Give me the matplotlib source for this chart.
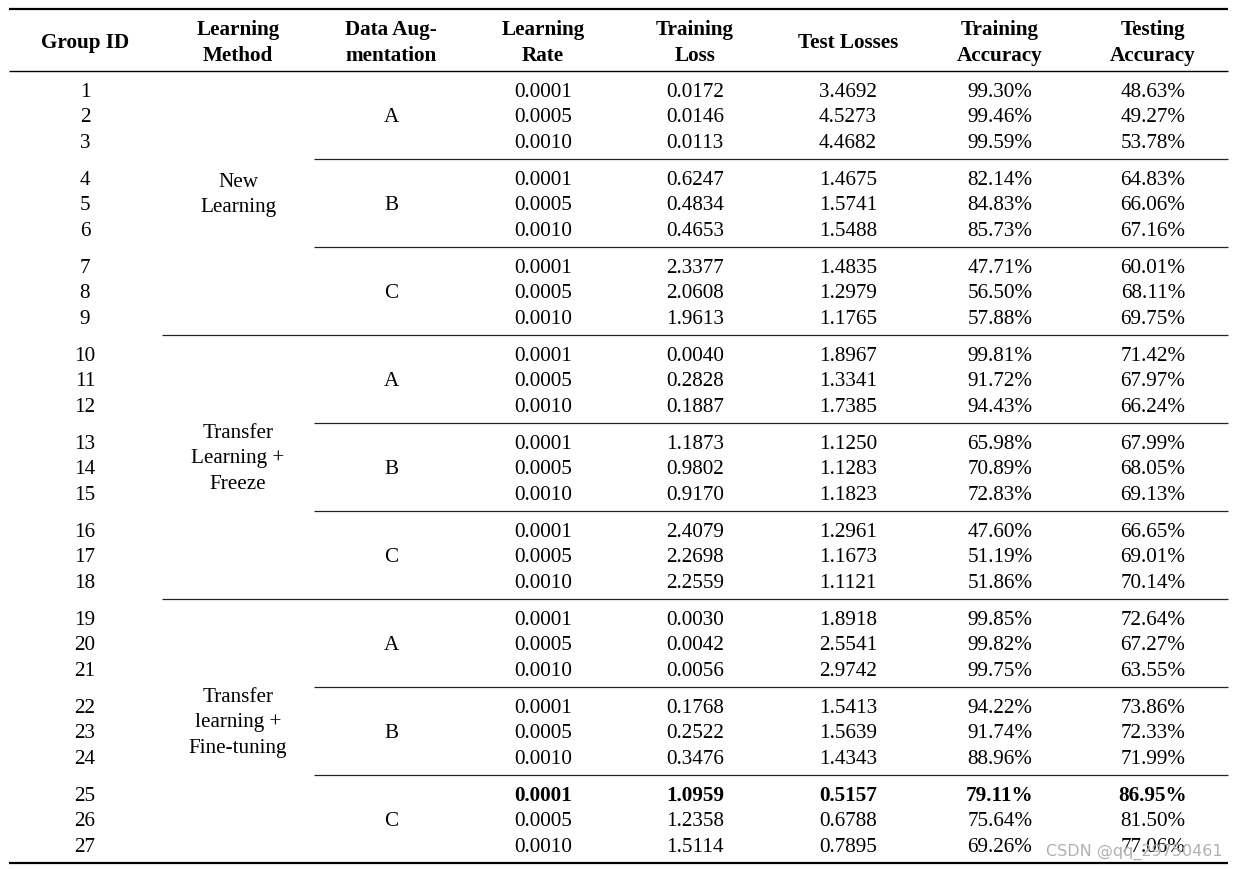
import matplotlib.pyplot as plt

# Table data
headers = ['Group ID', 'Learning\nMethod', 'Data Aug-\nmentation', 'Learning\nRate',
           'Training\nLoss', 'Test Losses', 'Training\nAccuracy', 'Testing\nAccuracy']
methods = ['New\nLearning', 'Transfer\nLearning +\nFreeze', 'Transfer\nlearning +\nFine-tuning']
augmentations = ['A', 'B', 'C']
learning_rates = ['0.0001', '0.0005', '0.0010']

group_ids = list(range(1, 28))
train_loss = [0.0172, 0.0146, 0.0113, 0.6247, 0.4834, 0.4653, 2.3377, 2.0608, 1.9613,
              0.0040, 0.2828, 0.1887, 1.1873, 0.9802, 0.9170, 2.4079, 2.2698, 2.2559,
              0.0030, 0.0042, 0.0056, 0.1768, 0.2522, 0.3476, 1.0959, 1.2358, 1.5114]
test_loss = [3.4692, 4.5273, 4.4682, 1.4675, 1.5741, 1.5488, 1.4835, 1.2979, 1.1765,
             1.8967, 1.3341, 1.7385, 1.1250, 1.1283, 1.1823, 1.2961, 1.1673, 1.1121,
             1.8918, 2.5541, 2.9742, 1.5413, 1.5639, 1.4343, 0.5157, 0.6788, 0.7895]
train_acc = [99.30, 99.46, 99.59, 82.14, 84.83, 85.73, 47.71, 56.50, 57.88,
             99.81, 91.72, 94.43, 65.98, 70.89, 72.83, 47.60, 51.19, 51.86,
             99.85, 99.82, 99.75, 94.22, 91.74, 88.96, 79.11, 75.64, 69.26]
test_acc = [48.63, 49.27, 53.78, 64.83, 66.06, 67.16, 60.01, 68.11, 69.75,
            71.42, 67.97, 66.24, 67.99, 68.05, 69.13, 66.65, 69.01, 70.14,
            72.64, 67.27, 63.55, 73.86, 72.33, 71.99, 86.95, 81.50, 77.06]
best_row = 25

plt.rcParams['font.family'] = ['Liberation Serif', 'DejaVu Serif']

fig = plt.figure(figsize=(12.36, 8.70), dpi=100)
ax = fig.add_axes([0, 0, 1, 1])
ax.set_xlim(0, 1236)
ax.set_ylim(870, 0)
ax.axis('off')

col_x = [85, 238, 391, 543, 695, 848, 1000, 1153]
fs = 15.2
pitch = 25.5
dy = 2  # small shift so the text sits like in the reference
left, right = 9, 1228

# rules
ax.hlines(10, left, right, color='black', lw=1.6)
ax.hlines(72, left, right, color='black', lw=1.0)
ax.hlines(864, left, right, color='black', lw=1.6)

# header
for x, h in zip(col_x, headers):
    lines = h.split('\n')
    y0 = 41 + dy - (len(lines) - 1) * pitch / 2
    for i, ln in enumerate(lines):
        ax.text(x, y0 + i * pitch, ln, ha='center', va='center', fontsize=fs, fontweight='bold')

# body
block_h = 88
for b in range(9):
    top = 72 + b * block_h
    if b > 0:
        start = 162 if b % 3 == 0 else 314
        ax.hlines(top, start, right, color='#222222', lw=0.9)
    ys = [top + 18.5 + dy, top + 44 + dy, top + 69.5 + dy]
    ax.text(col_x[2], ys[1], augmentations[b % 3], ha='center', va='center', fontsize=fs)
    for j in range(3):
        r = b * 3 + j
        gid = group_ids[r]
        w = 'bold' if gid == best_row else 'normal'
        ax.text(col_x[0], ys[j], str(gid), ha='center', va='center', fontsize=fs)
        vals = [learning_rates[j], f'{train_loss[r]:.4f}', f'{test_loss[r]:.4f}',
                f'{train_acc[r]:.2f}%', f'{test_acc[r]:.2f}%']
        for x, v in zip(col_x[3:], vals):
            ax.text(x, ys[j], v, ha='center', va='center', fontsize=fs, fontweight=w)

# learning method labels
for m, label in enumerate(methods):
    mid_top = 72 + (m * 3 + 1) * block_h
    center = mid_top + 44 - 11 + dy
    lines = label.split('\n')
    y0 = center - (len(lines) - 1) * pitch / 2
    for i, ln in enumerate(lines):
        ax.text(col_x[1], y0 + i * pitch, ln, ha='center', va='center', fontsize=fs)

# watermark
ax.text(1223, 852, 'CSDN @qq_29750461', ha='right', va='center', fontsize=11.5,
        color='#b0b0b0', family='DejaVu Sans')

fig.savefig('out.png', dpi=100)
